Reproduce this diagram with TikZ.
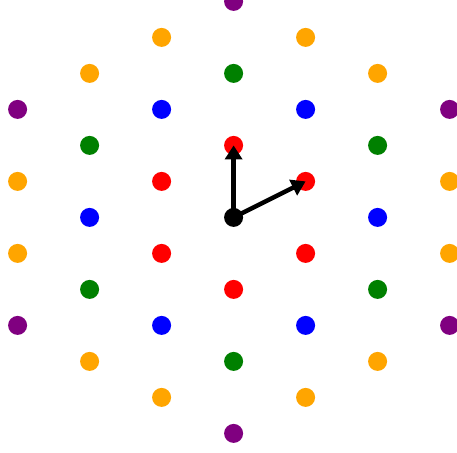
\documentclass[tikz,border=0pt]{standalone}
\usetikzlibrary{arrows.meta,calc}
\definecolor{lred}{RGB}{255,0,0}
\definecolor{lblue}{RGB}{0,0,255}
\definecolor{lgreen}{RGB}{0,128,0}
\definecolor{lorange}{RGB}{255,165,0}
\definecolor{lpurple}{RGB}{128,0,128}
\tikzset{
  dot/.style={circle, inner sep=0pt, minimum size=19pt, fill=#1},
  vec/.style={line width=4.4pt, -{Triangle[length=14pt,width=17pt]}}
}
\begin{document}
\begin{tikzpicture}[x=1pt,y=1pt]
\useasboundingbox (0,0) rectangle (457,452);
\clip (0,0) rectangle (457,452);
\coordinate (O) at (233.6,234.6);
% lattice point (m,n) -> O + m*(0,72) + n*(72,36)
\foreach \m/\n/\c [count=\i] in {
  1/0/lred, 0/1/lred, -1/0/lred, 0/-1/lred, -1/1/lred, 1/-1/lred,
  1/1/lblue, -1/-1/lblue, 2/-1/lblue, -2/1/lblue, 1/-2/lblue, -1/2/lblue,
  2/0/lgreen, 0/2/lgreen, -2/0/lgreen, 0/-2/lgreen, -2/2/lgreen, 2/-2/lgreen,
  2/1/lorange, 1/2/lorange, 3/-1/lorange, 3/-2/lorange, -1/3/lorange, -2/3/lorange,
  -2/-1/lorange, -1/-2/lorange, -3/1/lorange, -3/2/lorange, 1/-3/lorange, 2/-3/lorange,
  3/0/lpurple, 0/3/lpurple, -3/0/lpurple, 0/-3/lpurple, -3/3/lpurple, 3/-3/lpurple}
{
  \node[dot=\c] (p\i) at ($(O)+(72*\n,72*\m+36*\n)$) {};
}
\node[dot=black] (c) at (O) {};
\draw[vec] (c.center) -- (p1.center);
\draw[vec] (c.center) -- (p2.center);
\end{tikzpicture}
\end{document}
